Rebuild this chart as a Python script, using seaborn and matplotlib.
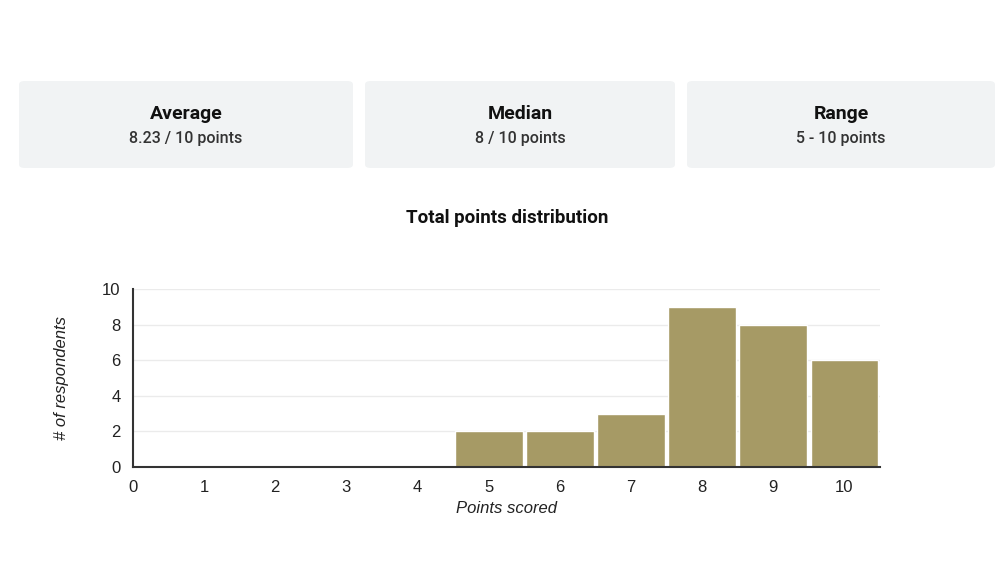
import matplotlib
matplotlib.use('Agg')
import matplotlib.pyplot as plt
import seaborn as sns
import pandas as pd
from matplotlib.patches import FancyBboxPatch

# Summary cards
card_titles = ['Average', 'Median', 'Range']
card_values = ['8.23 / 10 points', '8 / 10 points', '5 - 10 points']

# Histogram data
points = [5, 6, 7, 8, 9, 10]
counts = [2, 2, 3, 9, 8, 6]
x_ticks = list(range(0, 11))
y_ticks = [0, 2, 4, 6, 8, 10]

sns.set_style('white')
plt.rcParams['font.family'] = ['Roboto', 'DejaVu Sans']

df = pd.DataFrame({'Points scored': points, 'Respondents': counts})

fig = plt.figure(figsize=(9.96, 5.84), dpi=100)
W, H = 996, 584

# Cards (pixel boxes: left, right)
card_x = [(19, 353), (365, 675), (687, 995)]
for (x0, x1), t, v in zip(card_x, card_titles, card_values):
    box = FancyBboxPatch((x0 / W, 1 - 168 / H), (x1 - x0) / W, 87 / H,
                         boxstyle='round,pad=0,rounding_size=0.006',
                         transform=fig.transFigure, facecolor='#f1f3f4',
                         edgecolor='none')
    fig.patches.append(box)
    cx = (x0 + x1) / 2 / W
    fig.text(cx, 1 - 114 / H, t, ha='center', va='center', fontsize=14,
             fontweight='bold', color='#111111')
    fig.text(cx, 1 - 139 / H, v, ha='center', va='center', fontsize=11.5,
             fontweight='medium', color='#333333')

fig.text(507 / W, 1 - 218 / H, 'Total points distribution', ha='center',
         va='center', fontsize=13.5, fontweight='bold', color='#111111')

ax = fig.add_axes([133 / W, 1 - 467 / H, 747 / W, 178 / H])
sns.barplot(data=df, x='Points scored', y='Respondents', native_scale=True,
            color='#a69a65', saturation=1, width=0.95, ax=ax)

axis_font = ['Liberation Sans', 'DejaVu Sans']
ax.set_xlim(0, 10.5)
ax.set_ylim(0, 10)
ax.set_xticks(x_ticks)
ax.set_yticks(y_ticks)
for lab in ax.get_xticklabels() + ax.get_yticklabels():
    lab.set_family(axis_font)
ax.yaxis.grid(True, color='#ebebeb', linewidth=1)
ax.set_axisbelow(True)
for s in ['top', 'right']:
    ax.spines[s].set_visible(False)
ax.spines['left'].set_color('#333333')
ax.spines['bottom'].set_color('#333333')
ax.spines['left'].set_linewidth(1.5)
ax.spines['bottom'].set_linewidth(1.5)
ax.tick_params(axis='both', length=0, labelsize=12, labelcolor='#222222', pad=9)
ax.set_xlabel('Points scored', fontsize=12, style='italic', color='#222222',
              labelpad=5, family=axis_font)
ax.set_ylabel('# of respondents', fontsize=12, style='italic', color='#222222',
              labelpad=24, family=axis_font)

fig.savefig('out.png', dpi=100, facecolor='white')
